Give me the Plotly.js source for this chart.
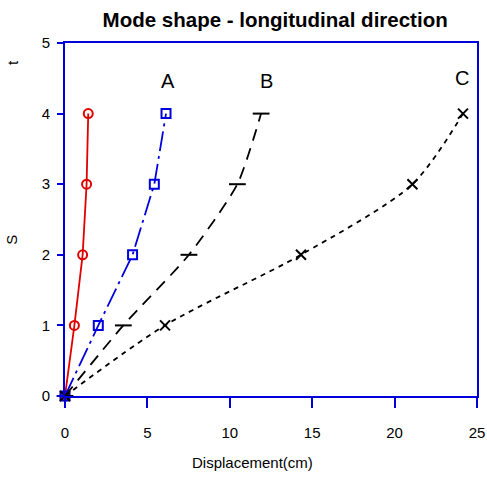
<!DOCTYPE html>
<html>
<head>
<meta charset="utf-8">
<script src="https://cdn.plot.ly/plotly-3.0.1.min.js"></script>
<style>html,body{margin:0;padding:0;background:#fff;}#chart{width:487px;height:478px;}</style>
</head>
<body>
<div id="chart"></div>
<script>
const levels = [0, 1, 2, 3, 4];
const dispA1 = [0, 0.57, 1.07, 1.31, 1.41];
const dispA = [0, 2.02, 4.1, 5.42, 6.13];
const dispB = [0, 3.54, 7.52, 10.46, 11.9];
const dispC = [0, 6.07, 14.32, 21.08, 24.15];
const curveLabels = ['A', 'B', 'C'];
const labelX = [6.25, 12.2, 24.1];
const labelY = [4.46, 4.46, 4.5];
const xTicks = [0, 5, 10, 15, 20, 25];
const yTicks = [0, 1, 2, 3, 4, 5];

const font = 'Liberation Sans, Arial, sans-serif';
const traces = [
  {x: dispA1, y: levels, mode: 'lines+markers', cliponaxis: false,
   line: {color: '#e00000', width: 1.8},
   marker: {symbol: 'circle-open', size: 9, color: '#e00000', line: {width: 2, color: '#e00000'}}},
  {x: dispA, y: levels, mode: 'lines+markers', cliponaxis: false,
   line: {color: '#0000dd', width: 1.8, dash: '20px,5px,3px,5px'},
   marker: {symbol: 'square-open', size: 9, color: '#0000dd', line: {width: 2, color: '#0000dd'}}},
  {x: dispB, y: levels, mode: 'lines+markers', cliponaxis: false,
   line: {color: '#000', width: 1.8, dash: '12px,8px', shape: 'spline', smoothing: 0.6},
   marker: {symbol: 'line-ew-open', size: 12, color: '#000', line: {width: 2, color: '#000'}}},
  {x: dispC, y: levels, mode: 'lines+markers', cliponaxis: false,
   line: {color: '#000', width: 1.8, dash: '5px,5px', shape: 'spline', smoothing: 0.8},
   marker: {symbol: 'x-thin-open', size: 10, color: '#000', line: {width: 2, color: '#000'}}}
];

const annotations = curveLabels.map((t, i) => ({
  x: labelX[i], y: labelY[i], xref: 'x', yref: 'y', text: t, showarrow: false,
  xanchor: 'center', yanchor: 'middle',
  font: {family: font, size: 20, color: '#000'}
}));
annotations.push({x: 0.456, y: -0.187, xref: 'paper', yref: 'paper', text: 'Displacement(cm)',
  xanchor: 'center', yanchor: 'middle',
  showarrow: false, font: {family: font, size: 15, color: '#000'}});
annotations.push({x: -0.129, y: 0.442, xref: 'paper', yref: 'paper', text: 'S', textangle: -90,
  xanchor: 'center', yanchor: 'middle',
  showarrow: false, font: {family: font, size: 15, color: '#000'}});
annotations.push({x: -0.129, y: 0.946, xref: 'paper', yref: 'paper', text: 't', textangle: -90,
  xanchor: 'center', yanchor: 'middle',
  showarrow: false, font: {family: font, size: 15, color: '#000'}});

const layout = {
  width: 487, height: 478,
  margin: {l: 65, r: 10, t: 43, b: 82},
  paper_bgcolor: '#fff', plot_bgcolor: '#fff',
  showlegend: false,
  title: {text: '<b>Mode shape - longitudinal direction</b>', x: 0.565, xanchor: 'center', y: 0.958, yanchor: 'middle',
    font: {family: font, size: 20.5, color: '#000'}},
  xaxis: {range: [0, 25], tickvals: xTicks, ticks: 'outside', ticklen: 10, tickwidth: 2, tickcolor: '#0000dd',
    showline: true, linecolor: '#0000dd', linewidth: 2, mirror: true, showgrid: false, zeroline: false,
    tickfont: {family: font, size: 15, color: '#000'}, ticklabelstandoff: 12},
  yaxis: {range: [0, 5], tickvals: yTicks, ticks: 'outside', ticklen: 6, tickwidth: 2, tickcolor: '#0000dd',
    showline: true, linecolor: '#0000dd', linewidth: 2, mirror: true, showgrid: false, zeroline: false,
    tickfont: {family: font, size: 15, color: '#000'}, ticklabelstandoff: 4},
  annotations: annotations
};
Plotly.newPlot('chart', traces, layout, {staticPlot: true, displayModeBar: false});
</script>
</body>
</html>
